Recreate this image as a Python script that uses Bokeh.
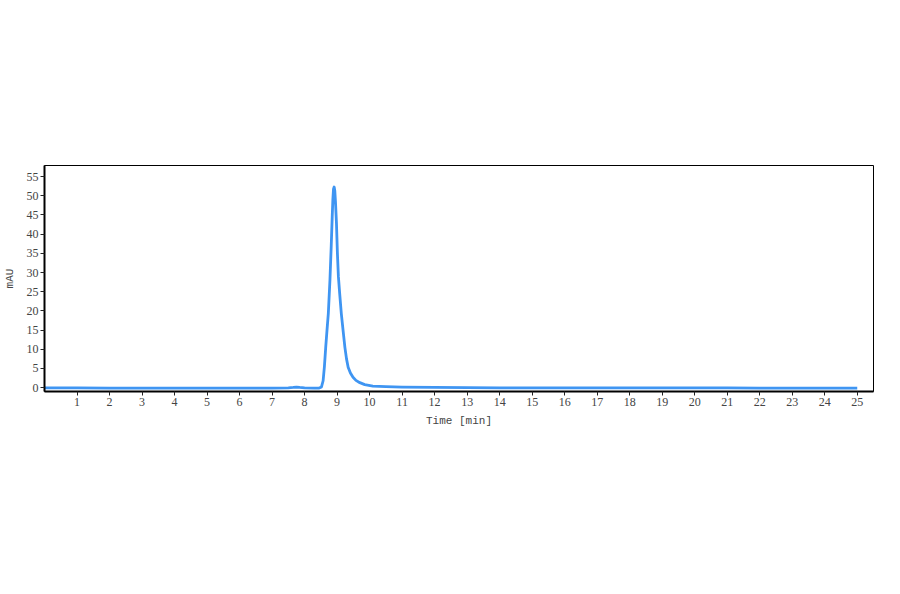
from bokeh.plotting import figure
from bokeh.models import Range1d, FixedTicker
from bokeh.embed import file_html
from bokeh.resources import INLINE

# chromatogram trace (time in min, signal in mAU)
time_min = [0.0, 1.0, 2.0, 3.0, 4.0, 5.0, 6.0, 7.0, 7.5, 7.65, 7.75, 7.85, 8.0,
            8.3, 8.45, 8.52, 8.57, 8.61, 8.65, 8.69, 8.73, 8.78, 8.82, 8.85,
            8.87, 8.89, 8.91, 8.93, 8.95, 8.98, 9.01, 9.04, 9.08, 9.13, 9.19,
            9.24, 9.29, 9.34, 9.41, 9.49, 9.58, 9.70, 9.85, 10.1, 10.5, 11.0,
            12.0, 13.0, 14.0, 15.0, 16.0, 17.0, 18.0, 19.0, 20.0, 21.0, 22.0,
            23.0, 24.0, 25.0]
signal_mau = [-0.05, -0.05, -0.1, -0.1, -0.1, -0.1, -0.1, -0.1, -0.05, 0.05,
              0.15, 0.05, -0.05, -0.1, -0.1, 0.2, 1.8, 5.5, 10.5, 15.0, 19.3,
              28.0, 37.0, 44.5, 49.0, 51.8, 52.3, 51.3, 48.5, 43.0, 35.0, 29.0,
              24.5, 19.3, 14.5, 10.5, 7.5, 5.3, 3.8, 2.7, 1.9, 1.3, 0.8, 0.4,
              0.25, 0.15, 0.05, 0.0, -0.05, -0.05, -0.05, -0.05, -0.05, -0.05,
              -0.05, -0.05, -0.1, -0.1, -0.1, -0.1]

x_ticks = list(range(1, 26))
y_ticks = list(range(0, 60, 5))

p = figure(width=884, height=578, output_backend="svg", toolbar_location=None,
           x_range=Range1d(0, 25.5), y_range=Range1d(-1, 57.9),
           min_border_left=43, min_border_top=165, min_border_right=11,
           min_border_bottom=187)

p.line(time_min, signal_mau, line_color="#3f95f2", line_width=2.8,
       line_join="round")

p.xgrid.visible = False
p.ygrid.visible = False
p.outline_line_color = "black"
p.outline_line_width = 1
p.background_fill_color = "white"
p.border_fill_color = "white"

p.xaxis.ticker = FixedTicker(ticks=x_ticks)
p.yaxis.ticker = FixedTicker(ticks=y_ticks)
p.xaxis.axis_label = "Time [min]"
p.yaxis.axis_label = "mAU"

for ax in (p.xaxis, p.yaxis):
    ax.axis_line_color = "black"
    ax.axis_line_width = 2
    ax.major_tick_line_color = "#222222"
    ax.major_tick_in = 0
    ax.major_tick_out = 4
    ax.minor_tick_line_color = None
    ax.major_label_text_font = "Liberation Serif"
    ax.major_label_text_font_size = "12px"
    ax.major_label_text_color = "#444444"
    ax.major_label_standoff = 2
    ax.axis_label_text_font = "Liberation Mono"
    ax.axis_label_text_font_size = "11px"
    ax.axis_label_text_font_style = "normal"
    ax.axis_label_text_color = "#444444"

p.xaxis.axis_label_standoff = 6
p.yaxis.axis_label_standoff = 8

open("out.html", "w").write(file_html(p, INLINE))
